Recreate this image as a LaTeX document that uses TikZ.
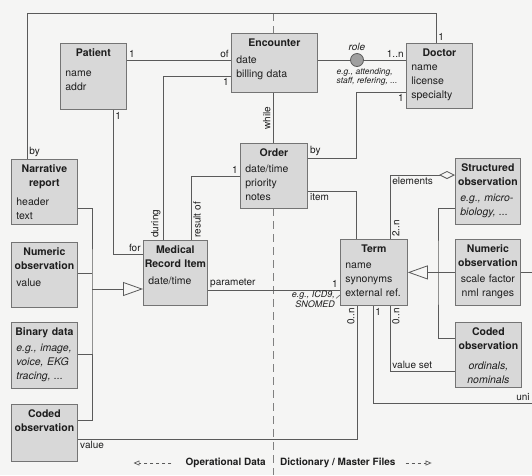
\documentclass[tikz,border=0pt]{standalone}
\usepackage{fontspec}
\setmainfont{TeX Gyre Heros}
\usepackage{xcolor}
\usepackage{tikz}
\usetikzlibrary{arrows.meta}
\usetikzlibrary{positioning}

\definecolor{paper}{HTML}{F5F5F4}
\definecolor{boxfill}{HTML}{D8D8D8}
\definecolor{boxline}{HTML}{747474}
\definecolor{wire}{HTML}{5A5A5A}
\definecolor{ink}{HTML}{1E1E1E}

\newcommand{\hd}[1]{\makebox[\linewidth]{\bfseries #1}}

\begin{document}
\begin{tikzpicture}[x=1pt,y=-1pt,font=\fontsize{10.5}{14}\selectfont,text=ink,
  main node/.style={rectangle,draw=boxline,line width=0.8pt,fill=boxfill,anchor=north west,
    align=left,inner xsep=5pt,inner ysep=4pt,text height=9pt,text width=56pt,text depth=49pt},
  obs node/.style={main node,align=center},
  link/.style={draw=wire,line width=0.8pt},
  lbl/.style={inner sep=2pt,font=\fontsize{10}{12}\selectfont},
  up/.style={lbl,rotate=90},
  note/.style={inner sep=0pt,align=left,font=\itshape\fontsize{8.5}{8}\selectfont},
  isa/.style={link,-{Triangle[open,length=20pt,width=14pt]}},
  part/.style={link,-{Diamond[open,length=16pt,width=8pt]}},
  role dot/.style={circle,draw=wire,line width=0.8pt,fill=gray!75,minimum size=13pt,inner sep=0pt},
  divider/.style={draw=gray,line width=0.8pt,dash pattern=on 8pt off 5pt},
  legend text/.style={inner sep=0pt,font=\bfseries\fontsize{10}{12}\selectfont},
  legend/.style={draw=wire,line width=0.7pt,dash pattern=on 3pt off 3pt,-{Triangle[open,length=6pt,width=5pt]}}]

  \fill[paper] (0,0) rectangle (532,475);
  \useasboundingbox (0,0) rectangle (532,475);

  \coordinate (div top) at (273,13);
  \coordinate (div bottom) at (273,475);
  \coordinate (east edge) at (532,0);
  \coordinate (bus) at (92,289);
  \path[divider] (div top) -- (div bottom);

  \node[main node] (1) at (60,43) {\hd{Patient}\\[6pt] name\\ addr};
  \node[main node,text width=76pt,text depth=42pt] (2) at (231,33) {\hd{Encounter}\\[3pt] date\\ billing data};
  \node[main node,text depth=48pt] (3) at (406,43) {\hd{Doctor}\\ name\\ license\\ specialty};
  \node[main node,text width=57pt,text depth=48pt] (4) at (240,143) {\hd{Order}\\[2pt] date/time\\ priority\\ notes};
  \node[main node,text width=54pt,text depth=48pt] (5) at (143,240) {\hd{Medical}\\ \hd{Record Item}\\[3pt] date/time};
  \node[main node,text depth=48pt] (6) at (11,159) {\hd{Narrative}\\ \hd{report}\\[5pt] header\\ text};
  \node[main node,text depth=48pt] (7) at (11,242) {\hd{Numeric}\\ \hd{observation}\\[3pt] value};
  \node[main node] (8) at (11,322) {\hd{Binary data}\\[2pt] \textit{e.g., image,}\\ \textit{voice, EKG}\\ \textit{tracing, ...}};
  \node[main node,text depth=40pt] (9) at (11,404) {\hd{Coded}\\ \hd{observation}};
  \node[main node,text width=57pt] (10) at (340,239) {\hd{Term}\\[2pt] name\\ synonyms\\ external ref.};
  \node[main node,text width=55pt] (11) at (455,158) {\hd{Structured}\\ \hd{observation}\\[2pt] \textit{e.g., micro-}\\ \textit{biology, ...}};
  \node[obs node,text width=55pt] (12) at (455,239) {\hd{Numeric}\\ \hd{observation}\\[2pt] scale factor\\ nml ranges};
  \node[obs node,text depth=48pt] (13) at (455,322) {\hd{Coded}\\ \hd{observation}\\[6pt] \textit{ordinals,}\\ \textit{nominals}};

  \draw[link] (6.north -| 27,0) -- node[lbl,pos=0,above right] {by} (27,13) -| (3.north -| 436,0)
    node[lbl,pos=1,above right] {1};
  \draw[link] (1.east |- 0,60) -- (2.west |- 0,60)
    node[lbl,pos=0,above right] {1}
    node[lbl,pos=1,above left] {of};
  \draw[link] (2.west |- 0,76) -| (5.north -| 163,0)
    node[lbl,pos=0,below left] {1}
    node[up,pos=1,anchor=south west] {during};
  \draw[link] (1.south -| 113,0) |- (5.west |- 0,254)
    node[lbl,pos=0,below right] {1}
    node[lbl,pos=1,above left] {for};
  \draw[link] (4.west |- 0,176) -| (5.north -| 191,0)
    node[lbl,pos=0,above left] {1}
    node[up,pos=1,anchor=north west] {result of};
  \draw[link] (2.south -| div top) -- (4.north -| div top)
    node[up,pos=0.5,anchor=south] {while};
  \draw[link] (4.east |- 0,158) -| node[lbl,pos=0,above right] {by} (356,92) -- (3.west |- 0,92)
    node[lbl,pos=1,below left] {1};

  \draw[link] (2.east |- 0,60) -- (3.west |- 0,60)
    node[lbl,pos=1,above left] {1..n};
  \node[role dot] (r) at (357,60) {};
  \node[lbl,above=0pt of r,font=\itshape\fontsize{10}{12}\selectfont] (role) {role};
  \node[note,below=1pt of r,xshift=10pt] (role eg) {e.g., attending,\\ staff, refering, ...};

  \draw[link] (4.east |- 0,191) -| (10.north -| 356,0)
    node[lbl,pos=0,below right] {item};
  \draw[link] (5.east |- 0,290) -- (10.west |- 0,290)
    node[lbl,pos=0,above right] {parameter}
    node[lbl,pos=1,above left] {1};
  \node[note,align=right,font=\itshape\fontsize{9}{10}\selectfont,below left=18pt and 5pt of 10.west] (icd) {e.g., ICD9,\\ SNOMED};
  \draw[link,line width=0.6pt] ([xshift=1pt,yshift=-8pt]icd.north east) -- (10.west |- 0,295);

  \draw[part] (10.north -| 390,0) |- (11.west |- 0,175)
    node[up,pos=0,anchor=north west] {2..n}
    node[lbl,pos=0.5,below right] {elements};
  \draw[isa] (12.west) -- (10.east |- 12.west);
  \draw[link] (11.west |- 0,208) -| (438,272) |- (13.west |- 0,338);
  \draw[link] (12.east) -- (12.east -| east edge);

  \draw[isa] (bus) -- (5.west |- bus);
  \draw[link] (6.east |- 0,208) -| (bus) |- (9.east |- 0,420);
  \draw[link] (7.east |- 0,273) -- (bus |- 0,273);
  \draw[link] (8.east |- 0,354) -- (bus |- 0,354);

  \draw[link] (10.south -| 357,0) |- (9.east |- 0,439)
    node[up,pos=0,anchor=south east] {0..n}
    node[lbl,pos=1,below right] {value};
  \draw[link] (10.south -| 373,0) |- (east edge |- 0,403)
    node[lbl,pos=0,below right] {1}
    node[lbl,pos=1,above left] {uni};
  \draw[link] (10.south -| 390,0) |- (13.west |- 0,371)
    node[up,pos=0,anchor=north east] {0..n}
    node[lbl,pos=0.5,above right] {value set};

  \node[legend text,anchor=east] (ops) at (266,463) {Operational Data};
  \node[legend text,anchor=west] (dict) at (280,463) {Dictionary / Master Files};
  \draw[legend] ([xshift=-14pt]ops.west) -- ([xshift=-52pt]ops.west);
  \draw[legend] ([xshift=10pt]dict.east) -- ([xshift=36pt]dict.east);
\end{tikzpicture}
\end{document}
